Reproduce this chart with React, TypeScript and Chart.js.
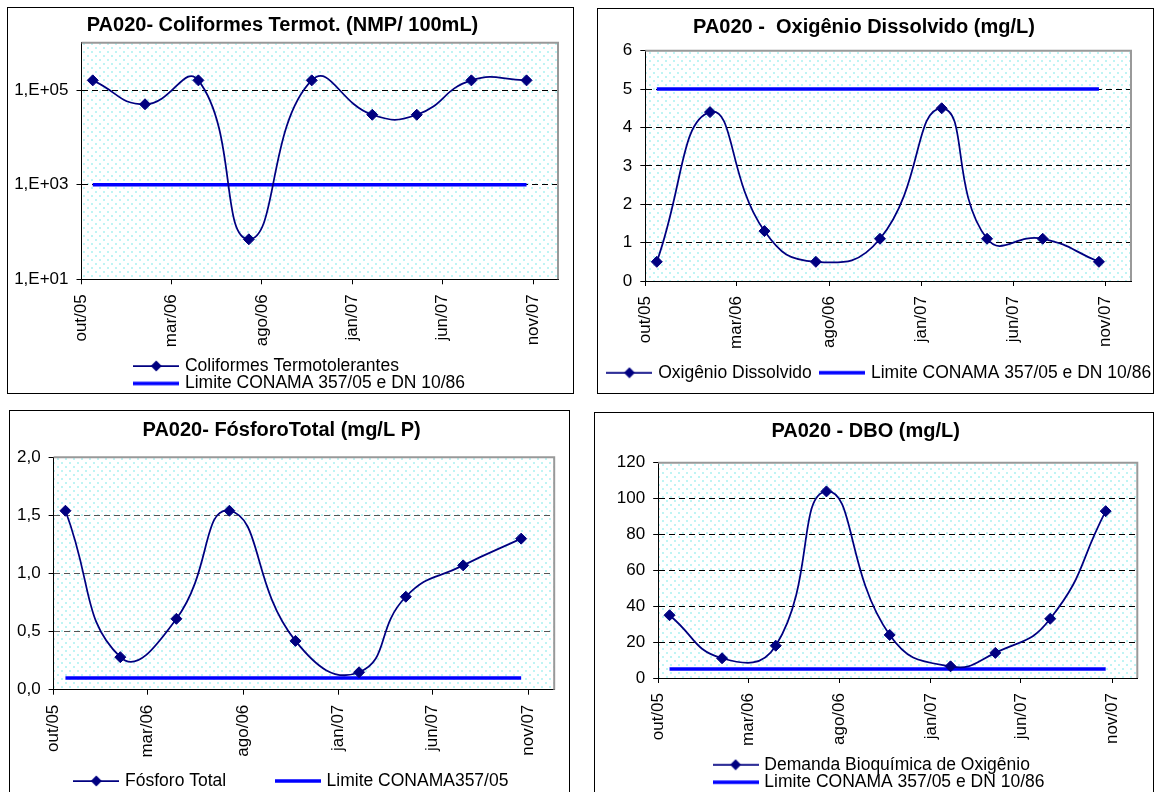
import React, { useEffect, useRef } from "react";
import { Chart, registerables } from "chart.js";

Chart.register(...registerables);

const FONT = "'Liberation Sans', Arial, Helvetica, sans-serif";
const NAVY = "#000080";
const BLUE = "#0000ff";

// ---------------- data ----------------
const sampleDates = [
  "2005-10-20", "2006-01-16", "2006-04-16", "2006-07-10", "2006-10-24",
  "2007-02-03", "2007-04-19", "2007-07-20", "2007-10-21",
];
const xTickDates = ["2005-10-01", "2006-03-01", "2006-08-01", "2007-01-01", "2007-06-01", "2007-11-01"];
const xTickLabels = ["out/05", "mar/06", "ago/06", "jan/07", "jun/07", "nov/07"];
const xAxisStart = "2005-10-01";
const xAxisEnd = "2007-12-13";

const coliformes = [160000, 50000, 160000, 70, 160000, 30000, 30000, 160000, 160000];
const coliformesLimite = [1000, 1000, 1000, 1000, 1000, 1000, 1000, 1000, 1000];
const coliTickValues = [10, 1000, 100000];
const coliTickLabels = ["1,E+01", "1,E+03", "1,E+05"];

const oxigenio = [0.5, 4.4, 1.3, 0.5, 1.1, 4.5, 1.1, 1.1, 0.5];
const oxigenioLimite = [5, 5, 5, 5, 5, 5, 5, 5, 5];
const odTickValues = [0, 1, 2, 3, 4, 5, 6];
const odTickLabels = ["0", "1", "2", "3", "4", "5", "6"];

const fosforo = [1.54, 0.28, 0.61, 1.54, 0.42, 0.15, 0.8, 1.07, 1.3];
const fosforoLimite = [0.1, 0.1, 0.1, 0.1, 0.1, 0.1, 0.1, 0.1, 0.1];
const pTickValues = [0, 0.5, 1, 1.5, 2];
const pTickLabels = ["0,0", "0,5", "1,0", "1,5", "2,0"];

const dbo = [35, 11, 18, 104, 24, 6.5, 14, 33, 93];
const dboLimite = [5, 5, 5, 5, 5, 5, 5, 5, 5];
const dboTickValues = [0, 20, 40, 60, 80, 100, 120];
const dboTickLabels = ["0", "20", "40", "60", "80", "100", "120"];

// ---------------- helpers ----------------
const DAY = 86400000;
function utc(iso: string) {
  const [y, m, d] = iso.split("-").map(Number);
  return Date.UTC(y, m - 1, d);
}
const dayIndex = (iso: string) => Math.round((utc(iso) - utc(xAxisStart)) / DAY);

let seriesImgCache: HTMLCanvasElement | null = null;
function seriesImg() {
  if (!seriesImgCache) {
    const c = document.createElement("canvas");
    c.width = 46;
    c.height = 12;
    const g = c.getContext("2d")!;
    g.strokeStyle = NAVY;
    g.lineWidth = 1.75;
    g.beginPath();
    g.moveTo(0, 6);
    g.lineTo(46, 6);
    g.stroke();
    g.fillStyle = NAVY;
    g.beginPath();
    g.moveTo(17.5, 6);
    g.lineTo(23, 0.5);
    g.lineTo(28.5, 6);
    g.lineTo(23, 11.5);
    g.closePath();
    g.fill();
    seriesImgCache = c;
  }
  return seriesImgCache;
}
let limitImgCache: HTMLCanvasElement | null = null;
function limitImg() {
  if (!limitImgCache) {
    const c = document.createElement("canvas");
    c.width = 46;
    c.height = 6;
    const g = c.getContext("2d")!;
    g.strokeStyle = BLUE;
    g.lineWidth = 3.5;
    g.beginPath();
    g.moveTo(0, 3);
    g.lineTo(46, 3);
    g.stroke();
    limitImgCache = c;
  }
  return limitImgCache;
}

function makePattern(ctx: CanvasRenderingContext2D) {
  const c = document.createElement("canvas");
  c.width = 8;
  c.height = 8;
  const g = c.getContext("2d")!;
  g.fillStyle = "#ffffff";
  g.fillRect(0, 0, 8, 8);
  g.fillStyle = "#bff4f4";
  g.fillRect(0, 0, 2, 2);
  g.fillRect(4, 4, 2, 2);
  return ctx.createPattern(c, "repeat");
}

const plotBg = {
  id: "plotBg",
  beforeDraw(chart: any) {
    const { ctx, chartArea: a } = chart;
    ctx.save();
    ctx.fillStyle = makePattern(ctx) || "#eefafa";
    ctx.fillRect(a.left, a.top, a.right - a.left, a.bottom - a.top);
    ctx.restore();
  },
  beforeDatasetsDraw(chart: any) {
    const { ctx, chartArea: a } = chart;
    ctx.save();
    ctx.strokeStyle = "#999999";
    ctx.lineWidth = 2;
    ctx.beginPath();
    ctx.moveTo(a.left, a.top);
    ctx.lineTo(a.right, a.top);
    ctx.lineTo(a.right, a.bottom);
    ctx.stroke();
    ctx.restore();
  },
};

// Places the legend block where the reference has it (rows left-aligned),
// and lets long rows draw past the wrapping width.
const legendPlacer = {
  id: "legendPlacer",
  afterLayout(chart: any, _args: any, opts: any) {
    const lg = chart.legend;
    if (!lg || !opts || opts.left == null) return;
    lg.left = opts.left;
    lg.right = opts.left + opts.width;
    lg.width = opts.width;
    lg.top = opts.top;
    lg.bottom = opts.top + opts.height;
    lg.height = opts.height;
    if (!lg.__noClip) {
      lg.__noClip = true;
      lg.draw = function () {
        if (this.options.display) this._draw();
      };
    }
  },
};

const LEGEND_H = 20;
const LEGEND_FONT = 17.5;

type Spec = {
  key: string;
  box: { x: number; y: number; w: number; h: number };
  title: string;
  titlePad: { top: number; bottom: number };
  plot: { left: number; right: number; bottom: number };
  yType: "linear" | "logarithmic";
  yMin: number;
  yMax: number;
  yTicks: number[];
  yLabels: string[];
  gridColor: string;
  series: number[];
  seriesLabel: string;
  limit: number[];
  limitLabel: string;
  legend: { x: number; rowY: number; padding: number; wrap: number };
};

const panels: Spec[] = [
  {
    key: "coli",
    box: { x: 7, y: 7, w: 567, h: 387 },
    title: "PA020- Coliformes Termot. (NMP/ 100mL)",
    titlePad: { top: 6.7, bottom: 5.0 },
    plot: { left: 74.5, right: 551, bottom: 272.3 },
    yType: "logarithmic",
    yMin: 10,
    yMax: 1000000,
    yTicks: coliTickValues,
    yLabels: coliTickLabels,
    gridColor: "#000",
    series: coliformes,
    seriesLabel: "Coliformes Termotolerantes",
    limit: coliformesLimite,
    limitLabel: "Limite CONAMA 357/05 e DN 10/86",
    legend: { x: 129.2, rowY: 359, padding: 0, wrap: 290 },
  },
  {
    key: "od",
    box: { x: 597, y: 8, w: 557, h: 386 },
    title: "PA020 -  Oxigênio Dissolvido (mg/L)",
    titlePad: { top: 7.3, bottom: 11.4 },
    plot: { left: 48.3, right: 534, bottom: 273 },
    yType: "linear",
    yMin: 0,
    yMax: 6,
    yTicks: odTickValues,
    yLabels: odTickLabels,
    gridColor: "#000",
    series: oxigenio,
    seriesLabel: "Oxigênio Dissolvido",
    limit: oxigenioLimite,
    limitLabel: "Limite CONAMA 357/05 e DN 10/86",
    legend: { x: 12.4, rowY: 364.7, padding: 10.4, wrap: 2000 },
  },
  {
    key: "p",
    box: { x: 9, y: 410, w: 561, h: 384 },
    title: "PA020- FósforoTotal (mg/L P)",
    titlePad: { top: 8.0, bottom: 15.3 },
    plot: { left: 44.6, right: 545.2, bottom: 279.7 },
    yType: "linear",
    yMin: 0,
    yMax: 2,
    yTicks: pTickValues,
    yLabels: pTickLabels,
    gridColor: "#555",
    series: fosforo,
    seriesLabel: "Fósforo Total",
    limit: fosforoLimite,
    limitLabel: "Limite CONAMA357/05",
    legend: { x: 67.3, rowY: 371, padding: 51.6, wrap: 2000 },
  },
  {
    key: "dbo",
    box: { x: 594, y: 412, w: 560, h: 382 },
    title: "PA020 - DBO (mg/L)",
    titlePad: { top: 7.7, bottom: 19.0 },
    plot: { left: 64.2, right: 543.3, bottom: 266 },
    yType: "linear",
    yMin: 0,
    yMax: 120,
    yTicks: dboTickValues,
    yLabels: dboTickLabels,
    gridColor: "#000",
    series: dbo,
    seriesLabel: "Demanda Bioquímica de Oxigênio",
    limit: dboLimite,
    limitLabel: "Limite CONAMA 357/05 e DN 10/86",
    legend: { x: 121.6, rowY: 352.7, padding: 0, wrap: 320 },
  },
];

function buildConfig(s: Spec): any {
  const xs = sampleDates.map(dayIndex);
  const xTicks = xTickDates.map(dayIndex);
  const xH = s.box.h - LEGEND_H - s.plot.bottom;
  return {
    type: "line",
    data: {
      datasets: [
        {
          label: s.seriesLabel,
          data: xs.map((x, i) => ({ x, y: s.series[i] })),
          borderColor: NAVY,
          backgroundColor: NAVY,
          borderWidth: 1.75,
          tension: 0.5,
          pointStyle: "rectRot",
          pointRadius: 5.5,
          pointBackgroundColor: NAVY,
          pointBorderColor: NAVY,
          pointBorderWidth: 1,
          fill: false,
        },
        {
          label: s.limitLabel,
          data: xs.map((x, i) => ({ x, y: s.limit[i] })),
          borderColor: BLUE,
          backgroundColor: BLUE,
          borderWidth: 3.5,
          pointRadius: 0,
          tension: 0,
          fill: false,
        },
      ],
    },
    options: {
      responsive: false,
      animation: false,
      devicePixelRatio: 1,
      events: [],
      layout: { padding: { top: 0, left: 0, bottom: 0, right: s.box.w - s.plot.right } },
      scales: {
        x: {
          type: "linear",
          bounds: "data",
          min: 0,
          max: dayIndex(xAxisEnd),
          afterBuildTicks: (sc: any) => {
            sc.ticks = xTicks.map((v) => ({ value: v }));
          },
          afterFit: (sc: any) => {
            sc.height = xH;
            sc.paddingLeft = 0;
            sc.paddingRight = 0;
          },
          ticks: {
            autoSkip: false,
            minRotation: 90,
            maxRotation: 90,
            padding: 10,
            color: "#000",
            font: { size: 17, family: FONT },
            callback: (_v: any, i: number) => xTickLabels[i],
          },
          grid: { drawOnChartArea: false, drawTicks: true, tickLength: 5, tickColor: "#000", tickWidth: 1 },
          border: { display: true, color: "#000", width: 1 },
        },
        y: {
          type: s.yType,
          bounds: "data",
          min: s.yMin,
          max: s.yMax,
          afterBuildTicks: (sc: any) => {
            sc.ticks = s.yTicks.map((v) => ({ value: v }));
          },
          afterFit: (sc: any) => {
            sc.width = s.plot.left;
            sc.paddingTop = 0;
            sc.paddingBottom = 0;
          },
          ticks: {
            autoSkip: false,
            padding: 8,
            color: "#000",
            font: { size: 17, family: FONT },
            callback: (_v: any, i: number) => s.yLabels[i],
          },
          grid: {
            color: (c: any) =>
              c.tick && (c.tick.value === s.yMax || c.tick.value === s.yMin) ? "rgba(0,0,0,0)" : s.gridColor,
            lineWidth: 1,
            drawTicks: true,
            tickLength: 5,
            tickColor: "#000",
            tickWidth: 1,
          },
          border: { display: true, color: "#000", width: 1, dash: [6, 4] },
        },
      },
      plugins: {
        title: {
          display: true,
          text: s.title,
          color: "#000",
          font: { size: 20, weight: "bold", family: FONT, lineHeight: 1.2 },
          padding: s.titlePad,
        },
        legend: {
          display: true,
          position: "bottom",
          align: "start",
          maxHeight: LEGEND_H,
          labels: {
            usePointStyle: true,
            pointStyleWidth: 40,
            boxWidth: 40,
            padding: s.legend.padding,
            color: "#000",
            font: { size: LEGEND_FONT, family: FONT },
            generateLabels: (chart: any) =>
              (Chart.defaults.plugins.legend.labels.generateLabels as any)(chart).map((it: any, i: number) => ({
                ...it,
                pointStyle: i === 0 ? seriesImg() : limitImg(),
              })),
          },
        },
        tooltip: { enabled: false },
        legendPlacer: {
          left: s.legend.x - s.legend.padding,
          top: s.legend.rowY - s.legend.padding - LEGEND_FONT / 2,
          width: s.legend.wrap,
          height: 200,
        },
      },
    },
    plugins: [plotBg, legendPlacer],
  };
}

function Panel({ spec }: { spec: Spec }) {
  const ref = useRef<HTMLCanvasElement>(null);
  useEffect(() => {
    const canvas = ref.current;
    if (!canvas) return;
    const chart = new Chart(canvas, buildConfig(spec));
    return () => chart.destroy();
  }, [spec]);
  const { x, y, w, h } = spec.box;
  return (
    <>
      <canvas
        ref={ref}
        width={w}
        height={h}
        style={{ position: "absolute", left: x, top: y, width: w, height: h, display: "block" }}
      />
      <div
        style={{
          position: "absolute",
          left: x,
          top: y,
          width: w,
          height: h,
          border: "1px solid #000",
          boxSizing: "border-box",
          pointerEvents: "none",
        }}
      />
    </>
  );
}

export default function App() {
  return (
    <div
      style={{
        position: "fixed",
        left: 0,
        top: 0,
        width: 1155,
        height: 792,
        overflow: "hidden",
        background: "#fff",
      }}
    >
      {panels.map((p) => (
        <Panel key={p.key} spec={p} />
      ))}
    </div>
  );
}
